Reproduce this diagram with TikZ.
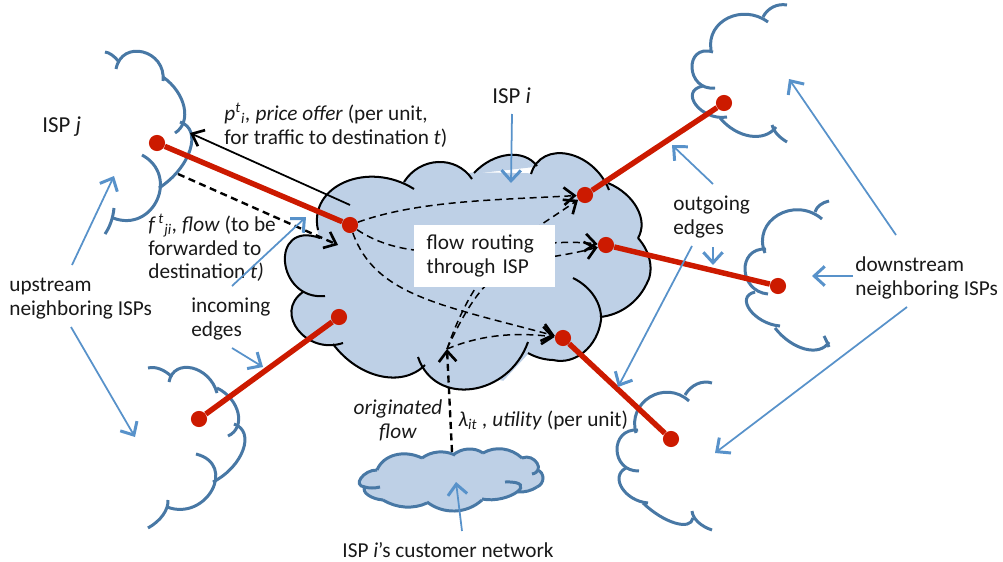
\documentclass[tikz,border=0pt]{standalone}
\usepackage{fontspec}
\setmainfont{Carlito}
\usetikzlibrary{arrows.meta,backgrounds}

\definecolor{CloudBlue}{RGB}{190,208,230}
\definecolor{CloudLine}{RGB}{72,120,165}
\definecolor{PointerBlue}{RGB}{88,146,202}
\definecolor{EdgeRed}{RGB}{204,26,0}

%%% one bump of a cloud: start / top of the bump / end
\newcommand{\LobeList}[3]{\edef\lobeitems{#3}\foreach \ax/\ay/\mx/\my/\bx/\by in \lobeitems {
  \pgfmathsetmacro\hx{\mx-(\ax+\bx)/2}
  \pgfmathsetmacro\hy{\my-(\ay+\by)/2}
  \pgfmathsetmacro\bow{max((1-(2*veclen(\hx,\hy)/veclen(\bx-\ax,\by-\ay))^2)/3,-0.2)}
  \pgfmathsetmacro\cax{\ax+\bow*(\bx-\ax)+4/3*\hx}
  \pgfmathsetmacro\cay{\ay+\bow*(\by-\ay)+4/3*\hy}
  \pgfmathsetmacro\cbx{\bx-\bow*(\bx-\ax)+4/3*\hx}
  \pgfmathsetmacro\cby{\by-\bow*(\by-\ay)+4/3*\hy}
  \path[#1] (\ax,\ay) .. controls (\cax,\cay) and (\cbx,\cby) .. (\bx,\by) #2;}}

\newcommand{\MainLobes}{318/230/345/182/414/189, 404/182/438/162/472/179, 474/173/508/155/537/166,
  531/174/568/154/609/190, 608/183/637/208/638/238, 638/238/650/262/646/285, 646/285/627/307/600/317,
  573/278/594/296/601/320, 601/320/584/352/553/360, 553/360/540/358/528/353,
  528/342/472/389/418/357, 425/365/380/376/333/344, 343/343/298/330/303/292, 325/296/285/262/320/238}
\newcommand{\CustLobes}{377/470/395/455/422/458, 422/458/438/452/455/455, 453/455/468/449/483/453,
  483/453/503/449/522/458, 522/458/537/463/532/474, 537/470/543/478/537/487, 537/487/528/491/518/492,
  505/482/517/492/482/499, 482/500/455/511/427/502, 427/503/405/507/383/500, 383/500/368/495/365/487,
  365/487/372/488/380/487, 365/487/361/478/377/470}

\tikzset{VertexStyle/.style = {circle,fill=EdgeRed,inner sep=0pt,minimum size=9.2pt},
         EdgeStyle/.style   = {draw=EdgeRed,line width=3.1pt},
         FlowStyle/.style   = {draw=black,line width=0.85pt,dash pattern=on 4pt off 2.6pt,
                               -{Straight Barb[length=6pt,width=10pt,line width=1.5pt]}},
         ThickFlow/.style   = {FlowStyle,line width=1.35pt},
         OfferStyle/.style  = {draw=black,line width=1pt,
                               -{Straight Barb[length=6pt,width=10pt,line width=1.5pt]}},
         PointerStyle/.style= {draw=PointerBlue,line width=1pt,
                               -{Straight Barb[length=6pt,width=11pt,line width=1.7pt]}},
         CloudStyle/.style  = {draw=CloudLine,line width=1.7pt},
         IspStyle/.style    = {draw=black,line width=1.15pt},
         BlueFill/.style    = {fill=CloudBlue,draw=CloudBlue,line width=0.8pt},
         TextStyle/.style   = {font=\fontsize{12.1}{13.6}\selectfont,inner sep=0pt,align=left,anchor=west,text=black!90},
         NameStyle/.style   = {TextStyle,font=\fontsize{13}{15}\selectfont}}

\begin{document}
\begin{tikzpicture}[x=0.02cm,y=-0.02cm]

\useasboundingbox (0,0) rectangle (1003,561);

%%% edge end points
\node[VertexStyle] (jdot)    at (157,143) {};
\node[VertexStyle] (idotin)  at (350,225) {};
\node[VertexStyle] (idotlow) at (339,317) {};
\node[VertexStyle] (lldot)   at (199,419) {};
\node[VertexStyle] (idottop) at (585,195) {};
\node[VertexStyle] (trdot)   at (724,103) {};
\node[VertexStyle] (idotmid) at (606,245) {};
\node[VertexStyle] (rmdot)   at (778,286) {};
\node[VertexStyle] (idotbot) at (563,338) {};
\node[VertexStyle] (brdot)   at (671,439) {};

\coordinate (flowin)   at (447,349);
\coordinate (custtop)  at (452,452);
\coordinate (offerA)   at (350,205);
\coordinate (offerB)   at (190,133);
\coordinate (forwardA) at (178,174);
\coordinate (forwardB) at (338,245);

%%% labels
\node[TextStyle,fill=white,minimum width=80pt,minimum height=35.3pt,text width=66pt,inner xsep=7pt] (routing) at (414,256) {flow routing\\through ISP};
\node[NameStyle] (ispj) at (42,127) {ISP \textit{j}};
\node[NameStyle] (ispi) at (492,96) {ISP \textit{i}};
\node[TextStyle] (offer) at (224,125) {\textit{p}\textsuperscript{\textit{t}}\textsubscript{\textit{i}}\textit{, price offer} (per unit,\\for traffic to destination \textit{t})};
\node[TextStyle] (flowlab) at (148,248) {\textit{f\,}\textsuperscript{\textit{t}}\textsubscript{\textit{ji}}\textit{, flow} (to be\\forwarded to\\destination \textit{t)}};
\node[TextStyle] (outgoing) at (673,217) {outgoing\\edges};
\node[TextStyle] (upstream) at (9,299) {upstream\\neighboring ISPs};
\node[TextStyle] (incoming) at (191,319) {incoming\\edges};
\node[TextStyle] (downstream) at (855,278) {downstream\\neighboring ISPs};
\node[TextStyle,align=center,anchor=center] (originated) at (398,420) {\textit{originated}\\\textit{flow}};
\node[TextStyle] (utility) at (458,420) {\textit{λ}\textsubscript{\textit{it}}\textit{ , utility} (per unit)};
\node[TextStyle,anchor=center] (customer) at (448,550) {ISP \textit{i}’s customer network};

\begin{scope}[on background layer]

%%% ISP i
\LobeList{BlueFill}{-- cycle}{\MainLobes}
\path[BlueFill] (318,230) -- (404,182) -- (474,173) -- (531,174) -- (608,183) -- (638,238) -- (646,285)
  -- (600,317) -- (601,320) -- (553,360) -- (528,353) -- (503,380) -- (425,365) -- (333,344) -- (303,292) -- (320,238) -- cycle;
\LobeList{IspStyle}{}{\MainLobes}

%%% customer network
\LobeList{BlueFill}{-- cycle}{\CustLobes}
\path[BlueFill] (377,470) -- (422,458) -- (483,453) -- (522,458) -- (537,470) -- (537,487) -- (518,492) -- (482,499)
  -- (427,502) -- (383,500) -- (365,487) -- cycle;
\LobeList{CloudStyle}{}{\CustLobes}

%%% neighbor ISPs, upstream
\LobeList{CloudStyle}{}{105/52/112/55/119/62, 116/69/143/52/163/81, 163/77/184/107/175/133,
  180/122/190/150/159/188, 142/155/157/200/113/218, 114/208/111/222/105/234}
\LobeList{CloudStyle}{}{148/368/160/369/172/377, 169/382/192/368/217/393, 217/388/238/413/228/436,
  234/424/243/450/213/482, 196/454/212/490/167/507, 168/500/163/515/148/528}

%%% neighbor ISPs, downstream
\LobeList{CloudStyle}{}{787/5/773/7/763/17, 768/22/728/18/711/50, 713/52/692/68/715/88,
  703/86/696/105/727/117, 720/118/750/136/776/127, 772/125/777/134/787/142}
\LobeList{CloudStyle}{}{829/201/820/205/815/212, 822/219/778/215/765/253, 766/249/745/270/768/294,
  755/292/750/310/780/326, 775/328/805/349/829/342, 824/336/826/340/829/347}
\LobeList{CloudStyle}{}{712/383/697/384/685/395, 689/401/650/397/636/433, 638/430/617/450/639/471,
  626/468/622/488/648/503, 643/503/675/523/693/518, 692/511/698/522/712/530}

%%% flows
\draw[FlowStyle] (idotin) .. controls (420,200) and (500,200) .. (idottop);
\draw[FlowStyle] (idotin) .. controls (425,275) and (520,235) .. (idotmid);
\draw[FlowStyle] (idotin) .. controls (375,295) and (440,305) .. (idotbot);
\draw[FlowStyle] (flowin) .. controls (480,255) and (520,240) .. (idottop);
\draw[FlowStyle] (flowin) .. controls (495,245) and (520,268) .. (idotmid);
\draw[FlowStyle] (flowin) .. controls (480,335) and (515,332) .. (idotbot);
\draw[ThickFlow] (custtop) -- (flowin);
\draw[ThickFlow] (forwardA) -- (forwardB);
\draw[OfferStyle] (offerA) -- (offerB);

%%% edges
\draw[EdgeStyle] (idotin)  -- (jdot);
\draw[EdgeStyle] (idotlow) -- (lldot);
\draw[EdgeStyle] (idottop) -- (trdot);
\draw[EdgeStyle] (idotmid) -- (rmdot);
\draw[EdgeStyle] (idotbot) -- (brdot);

\end{scope}

%%% pointers from the labels
\coordinate (upA)   at (72,265);   \coordinate (upAe)   at (114,176);
\coordinate (upB)   at (71,327);   \coordinate (upBe)   at (135,437);
\coordinate (inA)   at (232,286);  \coordinate (inAe)   at (306,217);
\coordinate (inB)   at (232,348);  \coordinate (inBe)   at (263,367);
\coordinate (ispP)  at (512,114);  \coordinate (ispPe)  at (511,183);
\coordinate (outA)  at (713,184);  \coordinate (outAe)  at (672,145);
\coordinate (outB)  at (713,247);  \coordinate (outBe)  at (713,265);
\coordinate (outC)  at (692,246);  \coordinate (outCe)  at (618,387);
\coordinate (downA) at (896,235);  \coordinate (downAe) at (789,79);
\coordinate (downB) at (853,276);  \coordinate (downBe) at (812,276);
\coordinate (downC) at (907,307);  \coordinate (downCe) at (715,453);
\coordinate (custP) at (462,531);  \coordinate (custPe) at (456,482);

\draw[PointerStyle] (upA) -- (upAe);
\draw[PointerStyle] (upB) -- (upBe);
\draw[PointerStyle] (inA) -- (inAe);
\draw[PointerStyle] (inB) -- (inBe);
\draw[PointerStyle] (ispP) -- (ispPe);
\draw[PointerStyle] (outA) -- (outAe);
\draw[PointerStyle] (outB) -- (outBe);
\draw[PointerStyle] (outC) -- (outCe);
\draw[PointerStyle] (downA) -- (downAe);
\draw[PointerStyle] (downB) -- (downBe);
\draw[PointerStyle] (downC) -- (downCe);
\draw[PointerStyle] (custP) -- (custPe);

\end{tikzpicture}
\end{document}
